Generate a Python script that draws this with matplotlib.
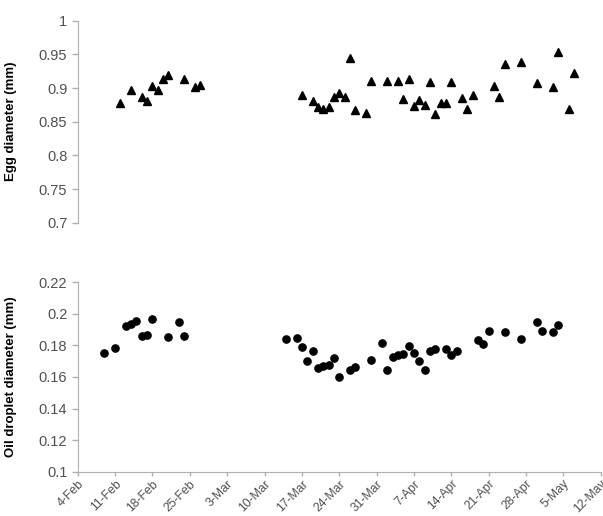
import numpy as np
import matplotlib
matplotlib.use("Agg")
import matplotlib.pyplot as plt
import datetime as dt

plt.rcParams['font.family'] = ['Liberation Sans', 'DejaVu Sans']

# Sampling days, counted from 4 Feb (leap year)
egg_days = [8, 10, 12, 13, 14, 15, 16, 17, 20, 22, 23,
            42, 44, 45, 46, 47, 48, 49, 50, 51, 52, 54, 55, 58, 60, 61, 62,
            63, 64, 65, 66, 67, 68, 69, 70, 72, 73, 74, 78, 79, 80, 83, 86,
            89, 90, 92, 93]
egg_diam = [0.878, 0.897, 0.887, 0.881, 0.903, 0.897, 0.914, 0.920, 0.914, 0.901, 0.904,
            0.890, 0.880, 0.872, 0.869, 0.872, 0.886, 0.893, 0.887, 0.944, 0.867,
            0.863, 0.911, 0.910, 0.911, 0.884, 0.913, 0.874, 0.882, 0.875, 0.909,
            0.862, 0.878, 0.878, 0.909, 0.885, 0.869, 0.889, 0.903, 0.886, 0.935,
            0.938, 0.907, 0.902, 0.954, 0.869, 0.923]

oil_days = [5, 7, 9, 10, 11, 12, 13, 14, 17, 19, 20,
            39, 41, 42, 43, 44, 45, 46, 47, 48, 49, 51, 52, 55, 57, 58, 59, 60,
            61, 62, 63, 64, 65, 66, 67, 69, 70, 71, 75, 76, 77, 80, 83, 86, 87,
            89, 90]
oil_diam = [0.1752, 0.1782, 0.1921, 0.1936, 0.1953, 0.1860, 0.1864, 0.1967, 0.1853,
            0.1948, 0.1860,
            0.1843, 0.1849, 0.1788, 0.1703, 0.1767, 0.1655, 0.1670, 0.1678, 0.1720,
            0.1598, 0.1644, 0.1661, 0.1710, 0.1815, 0.1642, 0.1725, 0.1737, 0.1748,
            0.1798, 0.1750, 0.1703, 0.1642, 0.1765, 0.1777, 0.1777, 0.1737, 0.1767,
            0.1833, 0.1809, 0.1890, 0.1883, 0.1839, 0.1950, 0.1890, 0.1883, 0.1931]

egg_ticks = [0.7, 0.75, 0.8, 0.85, 0.9, 0.95, 1]
egg_tick_labels = ['0.7', '0.75', '0.8', '0.85', '0.9', '0.95', '1']
oil_ticks = [0.1, 0.12, 0.14, 0.16, 0.18, 0.2, 0.22]
oil_tick_labels = ['0.1', '0.12', '0.14', '0.16', '0.18', '0.2', '0.22']

base = dt.datetime(2012, 2, 4)
egg_dates = [base + dt.timedelta(days=d) for d in egg_days]
oil_dates = [base + dt.timedelta(days=d) for d in oil_days]
x_start = base
x_end = base + dt.timedelta(days=98)
week_ticks = [base + dt.timedelta(days=7 * i) for i in range(15)]

spine_col = '#b0b0b0'
text_col = '#505050'

fig = plt.figure(figsize=(6.03, 5.16), dpi=100)
ax1 = fig.add_axes([0.1289, 0.5684, 0.8673, 0.3915])
ax2 = fig.add_axes([0.1289, 0.0859, 0.8673, 0.3670])

ax1.plot(egg_dates, egg_diam, linestyle='none', marker='^', color='black', markersize=5.5)
ax2.plot(oil_dates, oil_diam, linestyle='none', marker='o', color='black', markersize=5.2)

for ax in (ax1, ax2):
    ax.set_xlim(x_start, x_end)
    for s in ('top', 'right'):
        ax.spines[s].set_visible(False)
    ax.spines['left'].set_color(spine_col)
    ax.spines['bottom'].set_color(spine_col)
    ax.tick_params(axis='y', colors=spine_col, labelcolor=text_col, labelsize=10.5,
                   length=4, width=1, direction='out')
    ax.tick_params(axis='x', colors=spine_col, labelcolor=text_col, labelsize=8.8,
                   length=3, width=1, direction='out', pad=1.5)

ax1.set_ylim(0.7, 1.0)
ax1.set_yticks(egg_ticks)
ax1.set_yticklabels(egg_tick_labels)
ax1.spines['bottom'].set_visible(False)
ax1.set_xticks([])
ax1.set_ylabel('Egg diameter (mm)', fontsize=9.5, fontweight='bold', color='black')
ax1.yaxis.set_label_coords(-0.116, 0.5)

ax2.set_ylim(0.1, 0.22)
ax2.set_yticks(oil_ticks)
ax2.set_yticklabels(oil_tick_labels)
ax2.set_xticks(week_ticks)
ax2.set_xticklabels([f"{d.day}-{d.strftime('%b')}" for d in week_ticks],
                    rotation=45, ha='right', rotation_mode='anchor')
ax2.set_ylabel('Oil droplet diameter (mm)', fontsize=9.5, fontweight='bold', color='black')
ax2.yaxis.set_label_coords(-0.116, 0.5)

fig.savefig('out.png', dpi=100)
